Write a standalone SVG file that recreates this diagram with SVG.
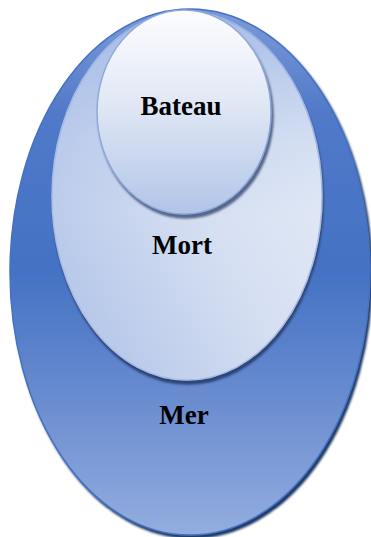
<svg xmlns="http://www.w3.org/2000/svg" width="371" height="537" viewBox="0 0 371 537">
  <defs>
    <linearGradient id="gOuter" x1="0" y1="0" x2="0" y2="1">
      <stop offset="0" stop-color="#7b9ad8"/>
      <stop offset="0.2" stop-color="#5179c9"/>
      <stop offset="0.5" stop-color="#4472c4"/>
      <stop offset="0.75" stop-color="#6b8dd0"/>
      <stop offset="1" stop-color="#93addf"/>
    </linearGradient>
    <linearGradient id="gMid" x1="0" y1="1" x2="1" y2="0.2">
      <stop offset="0" stop-color="#abbfe6"/>
      <stop offset="0.55" stop-color="#d5dff2"/>
      <stop offset="1" stop-color="#e6ecf7"/>
    </linearGradient>
    <linearGradient id="gMidTop" x1="0" y1="0" x2="0" y2="1">
      <stop offset="0" stop-color="#7f9fdc" stop-opacity="0.6"/>
      <stop offset="0.35" stop-color="#7f9fdc" stop-opacity="0.15"/>
      <stop offset="0.55" stop-color="#7f9fdc" stop-opacity="0"/>
    </linearGradient>
    <linearGradient id="gInner" x1="0" y1="0" x2="0" y2="1">
      <stop offset="0" stop-color="#fdfdff"/>
      <stop offset="0.45" stop-color="#e1e8f5"/>
      <stop offset="1" stop-color="#b2c5e8"/>
    </linearGradient>
    <filter id="shOuter" x="-10%" y="-10%" width="120%" height="120%">
      <feDropShadow dx="2" dy="3" stdDeviation="0.8" flood-color="#1f3864" flood-opacity="1"/>
    </filter>
    <filter id="shMid" x="-10%" y="-10%" width="120%" height="120%">
      <feDropShadow dx="1" dy="4" stdDeviation="1.2" flood-color="#2a4478" flood-opacity="1"/>
    </filter>
    <filter id="shInner" x="-10%" y="-10%" width="120%" height="120%">
      <feDropShadow dx="2" dy="4" stdDeviation="1.2" flood-color="#4a5a80" flood-opacity="0.9"/>
    </filter>
  </defs>
  <style>
    .lbl { font-family: "Liberation Serif", "Times New Roman", serif; font-weight: bold; font-size: 27px; fill: #000; text-anchor: middle; }
  </style>
  <g id="mer">
    <ellipse cx="190" cy="272" rx="180" ry="263" fill="url(#gOuter)" stroke="#4472c4" stroke-width="1.5" filter="url(#shOuter)"/>
    <text class="lbl" x="184" y="424">Mer</text>
  </g>
  <g id="mort">
    <ellipse cx="187" cy="196" rx="135" ry="184" fill="url(#gMid)" stroke="#a9bde6" stroke-width="1.5" filter="url(#shMid)"/>
    <ellipse cx="187" cy="196" rx="135" ry="184" fill="url(#gMidTop)"/>
    <text class="lbl" x="182" y="254">Mort</text>
  </g>
  <g id="bateau">
    <ellipse cx="184" cy="112" rx="87" ry="102" fill="url(#gInner)" stroke="#8eaadb" stroke-width="1.5" filter="url(#shInner)"/>
    <text class="lbl" x="181" y="115">Bateau</text>
  </g>
  <g id="connectors"/>
</svg>
